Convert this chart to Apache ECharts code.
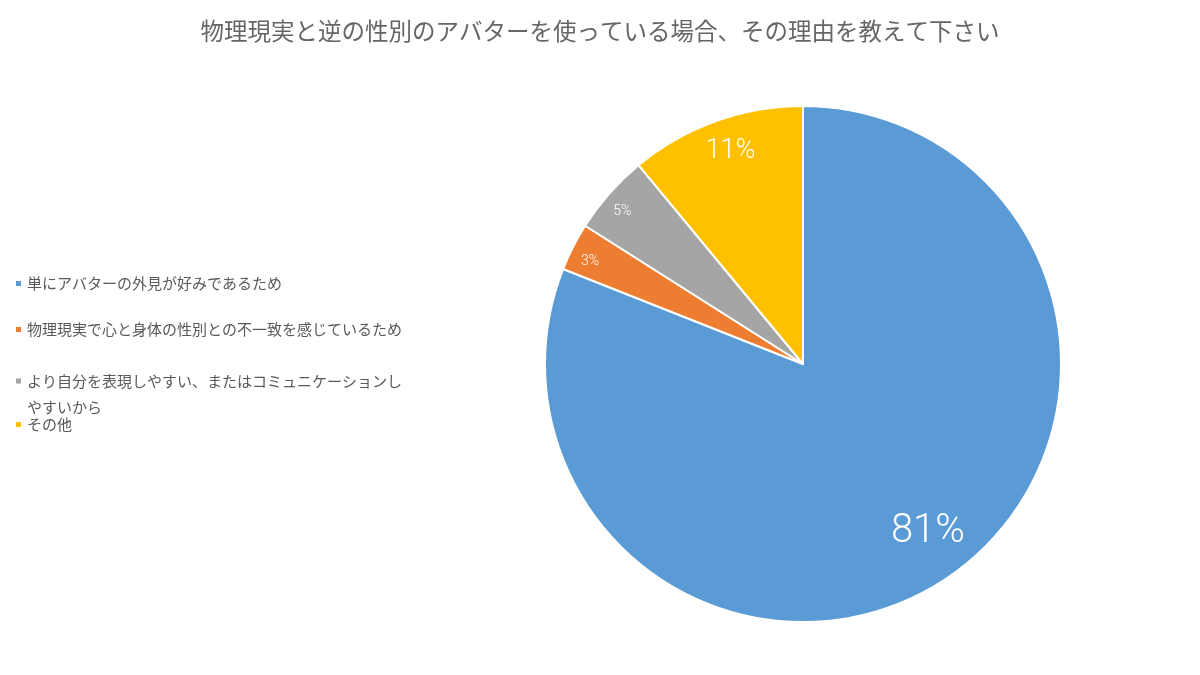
<!DOCTYPE html>
<html>
<head>
<meta charset="utf-8">
<script src="https://cdn.jsdelivr.net/npm/echarts@6/dist/echarts.min.js"></script>
<style>html,body{margin:0;padding:0;background:#fff}#c{width:1200px;height:675px}</style>
</head>
<body>
<div id="c"></div>
<script>
const titleText = '物理現実と逆の性別のアバターを使っている場合、その理由を教えて下さい';
const categories = [
  '単にアバターの外見が好みであるため',
  '物理現実で心と身体の性別との不一致を感じているため',
  'より自分を表現しやすい、またはコミュニケーションしやすいから',
  'その他'
];
const values = [81, 3, 5, 11];
const colors = ['#5B9BD5', '#ED7D31', '#A5A5A5', '#FFC000'];
const labelSizes = [40, 14, 14, 27];

const chart = echarts.init(document.getElementById('c'));
const cx = 803, cy = 364, R = 258;
const font = '"Noto Sans CJK JP", "Noto Sans", sans-serif';

const baseData = categories.map((n, i) => ({ name: n, value: values[i], itemStyle: { color: colors[i] } }));

function overlay(r0frac, showIdx, start) {
  return {
    type: 'pie',
    center: [cx, cy],
    radius: [R * r0frac, R],
    startAngle: start,
    clockwise: true,
    silent: true,
    legendHoverLink: false,
    z: 5,
    data: categories.map((n, i) => ({
      name: n, value: values[i],
      itemStyle: { color: 'rgba(0,0,0,0)', borderWidth: 0 },
      label: {
        show: showIdx.includes(i),
        position: 'inside',
        formatter: '{d}%',
        color: '#fff',
        fontSize: labelSizes[i],
        fontWeight: 300,
        fontFamily: 'Roboto, "Noto Sans", sans-serif'
      }
    })),
    labelLine: { show: false },
    emphasis: { disabled: true },
    tooltip: { show: false }
  };
}

const legendCenters = [283, 329, 375, 424];
const legends = categories.map((n, i) => ({
  data: [n],
  left: 14,
  top: legendCenters[i] - 7 - (i === 2 ? 26 : 0),
  orient: 'vertical',
  itemWidth: 7,
  itemHeight: 7,
  icon: 'rect',
  itemGap: 0,
  padding: 0,
  selectedMode: false,
  formatter: i === 2 ? (name => '\nより自分を表現しやすい、またはコミュニケーションし\nやすいから') : undefined,
  textStyle: i === 2
    ? { color: '#595959', fontSize: 15, fontFamily: font, lineHeight: 26 }
    : { color: '#595959', fontSize: 15, fontFamily: font }
}));

chart.setOption({
  animation: false,
  title: {
    text: titleText,
    left: 'center',
    top: 14,
    textStyle: { color: '#666666', fontSize: 23.5, fontWeight: 'normal', fontFamily: font }
  },
  legend: legends,
  series: [
    {
      type: 'pie',
      center: [cx, cy],
      radius: [0, R],
      startAngle: 90,
      clockwise: true,
      data: baseData,
      itemStyle: { borderColor: '#fff', borderWidth: 2 },
      label: { show: false },
      labelLine: { show: false },
      emphasis: { disabled: true }
    },
    overlay(0.6, [0], 92.4),
    overlay(0.72, [3], 89),
    overlay(0.81, [1, 2], 91.2)
  ]
});
</script>
</body>
</html>
